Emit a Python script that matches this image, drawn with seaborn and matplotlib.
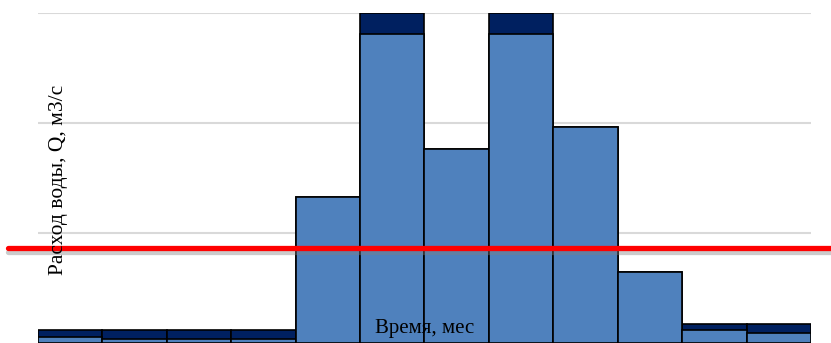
import matplotlib
matplotlib.use("Agg")
import matplotlib.pyplot as plt
import matplotlib.patheffects as pe
import pandas as pd
import seaborn as sns

# Monthly water discharge, m3/s
months = ["I", "II", "III", "IV", "V", "VI", "VII", "VIII", "IX", "X", "XI", "XII"]
base_flow = [5.5, 3.6, 3.6, 3.6, 132.7, 280.9, 176.4, 280.9, 196.4, 64.5, 11.8, 9.5]
extra_flow = [6.3, 8.2, 8.2, 8.2, 0.0, 19.1, 0.0, 19.1, 0.0, 0.0, 5.5, 7.8]
threshold = 86.4
grid_levels = [0, 100, 200, 300]

total_flow = [b + e for b, e in zip(base_flow, extra_flow)]
df = pd.DataFrame({"month": months, "base": base_flow, "total": total_flow})

sns.set_style("white")
plt.rcParams["font.family"] = ["Liberation Serif", "DejaVu Serif"]

fig = plt.figure(figsize=(8.31, 3.43), dpi=100)
ax = fig.add_axes([38 / 831, 0.0, 773 / 831, 330 / 343])

# upper (dark) part first, then the lower part drawn over it
sns.barplot(data=df, x="month", y="total", color="#002060", saturation=1,
            width=1.0, edgecolor="black", linewidth=1.2, ax=ax, zorder=2)
sns.barplot(data=df, x="month", y="base", color="#4F81BD", saturation=1,
            width=1.0, edgecolor="black", linewidth=1.2, ax=ax, zorder=3)

for lvl in grid_levels[1:]:
    ax.axhline(lvl, color="#D9D9D9", linewidth=1.5, zorder=1)

ax.axhline(threshold, xmin=-30 / 773, xmax=1.03, color="#FF0000", linewidth=3.8,
           clip_on=False, zorder=5,
           path_effects=[pe.SimpleLineShadow(offset=(0, -3), shadow_color="#7F7F7F",
                                             alpha=0.4), pe.Normal()])

ax.set_xlim(-0.5, len(months) - 0.5)
ax.set_ylim(0, grid_levels[-1])
ax.set_xticks([])
ax.set_yticks([])
ax.set_xlabel("")
ax.set_ylabel("")
for s in ax.spines.values():
    s.set_visible(False)

fig.text(59 / 831, (343 - 180) / 343, "Расход воды, Q, м3/с", rotation=90,
         ha="center", va="center", fontsize=15.5, color="black", zorder=10)
fig.text(425 / 831, (343 - 329) / 343, "Время, мес", ha="center", va="center",
         fontsize=15, color="black", zorder=10)

fig.savefig("out.png", dpi=100)
